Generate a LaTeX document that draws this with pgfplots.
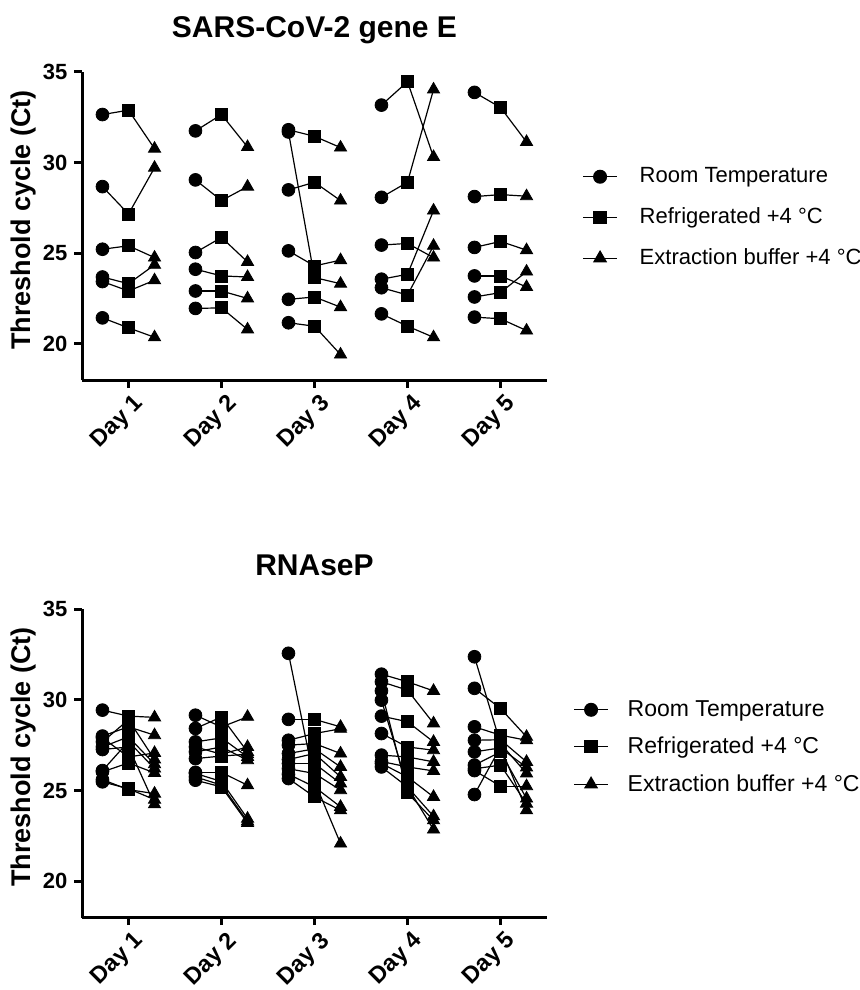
\documentclass[border=0pt]{standalone}
\usepackage{pgfplots}
\pgfplotsset{compat=1.18}
\usepackage{pgfplotstable}
\usepackage{fontspec}
\setmainfont{Liberation Sans}

% one row per sample: day, room temperature, refrigerated, extraction buffer
\pgfplotstableread{
day rt ref ext
1 32.64 32.88 30.76
1 28.67 27.16 29.71
1 25.22 25.41 24.76
1 23.69 23.32 24.36
1 23.44 22.92 23.51
1 21.44 20.89 20.37
2 31.74 32.64 30.85
2 29.04 27.90 28.67
2 25.04 25.87 24.52
2 24.12 23.75 23.69
2 22.92 22.92 22.51
2 21.96 21.99 20.80
3 31.80 31.44 30.82
3 31.68 23.66 23.32
3 28.49 28.91 27.90
3 25.13 24.30 24.62
3 22.46 22.59 22.03
3 21.17 20.98 19.42
4 33.16 34.45 30.30
4 28.08 28.91 34.02
4 25.45 25.54 24.76
4 23.57 23.84 27.35
4 23.10 22.70 25.41
4 21.66 20.98 20.37
5 33.86 33.03 31.13
5 28.12 28.23 28.14
5 25.32 25.65 25.17
5 23.75 23.75 23.14
5 22.59 22.83 23.99
5 21.48 21.39 20.74
}\geneE

\pgfplotstableread{
day rt ref ext
1 29.43 29.10 29.03
1 28.00 28.51 28.05
1 27.90 26.85 27.07
1 27.68 28.90 26.71
1 27.40 27.96 26.45
1 27.26 27.40 24.24
1 26.10 27.70 26.21
1 26.03 26.52 25.97
1 25.60 25.05 24.83
1 25.48 25.10 24.50
2 29.15 28.50 29.06
2 28.42 29.05 27.13
2 27.68 27.90 26.85
2 27.40 27.00 27.40
2 27.13 27.40 26.67
2 26.76 26.90 27.00
2 26.00 26.00 25.29
2 25.94 25.50 23.45
2 25.75 25.30 23.30
2 25.57 25.20 23.21
3 32.56 25.50 22.08
3 28.92 28.92 28.51
3 27.77 28.14 28.40
3 27.50 27.59 27.04
3 27.04 27.30 26.30
3 26.71 27.04 25.75
3 26.49 26.49 25.39
3 26.20 25.94 25.02
3 25.90 25.20 24.10
3 25.66 24.65 23.91
4 31.41 30.99 30.49
4 30.99 30.53 28.70
4 30.49 24.87 23.36
4 29.98 25.20 22.85
4 29.10 28.79 27.68
4 28.14 27.40 27.22
4 26.95 26.85 26.58
4 26.60 26.30 26.08
4 26.49 25.75 24.65
4 26.30 25.20 23.58
5 32.37 27.59 25.94
5 30.63 29.52 27.96
5 28.51 28.05 27.77
5 27.77 27.80 26.58
5 27.13 27.35 26.27
5 26.40 27.13 24.56
5 26.20 26.40 24.28
5 26.10 25.24 25.24
5 24.78 27.40 23.91
}\rnasep

\pgfplotsset{
  ctaxis/.style={
    scale only axis, width=232.5pt, height=154.3pt,
    xmin=0.5, xmax=5.5, ymin=18, ymax=35,
    axis lines*=left,
    axis line style={line width=1.5pt},
    xtick={1,2,3,4,5},
    xticklabels={Day 1,Day 2,Day 3,Day 4,Day 5},
    ytick={20,25,30,35},
    tick align=outside, major tick length=3.8pt,
    tick style={line width=1.5pt, black},
    /pgf/number format/assume math mode=true,
    tick label style={font=\fontsize{11}{13}\selectfont\bfseries},
    x tick label style={rotate=45, anchor=north east, inner sep=1pt,
      xshift=0.9pt, yshift=-2.1pt, font=\fontsize{11.7}{13}\selectfont\bfseries},
    ylabel={Threshold cycle (Ct)},
    ylabel style={at={(axis description cs:0,0.52)}, anchor=base, yshift=25.5pt,
      font=\fontsize{13.5}{15}\selectfont\bfseries},
    title style={at={(axis description cs:0.5,1)}, anchor=base, yshift=10.9pt,
      font=\fontsize{15}{17}\selectfont\bfseries},
    legend cell align=left,
    legend style={draw=none, fill=none, anchor=west, inner xsep=0pt, inner ysep=0pt},
    clip=false,
  },
  pairline/.style={black, line width=0.6pt, mark=none, forget plot},
  rtmark/.style={black, only marks, mark=*, mark size=3.2pt, forget plot},
  refmark/.style={black, only marks, mark=square*, mark size=3pt, forget plot},
  extmark/.style={black, only marks, mark=triangle*, mark size=3.5pt, forget plot},
}

\newcommand{\ctplots}[1]{%
  \addplot[pairline, quiver={u=0.28, v=\thisrow{ref}-\thisrow{rt}}]
    table[x expr=\thisrow{day}-0.28, y=rt] {#1};
  \addplot[pairline, quiver={u=0.28, v=\thisrow{ext}-\thisrow{ref}}]
    table[x=day, y=ref] {#1};
  \addplot[rtmark] table[x expr=\thisrow{day}-0.28, y=rt] {#1};
  \addplot[refmark] table[x=day, y=ref] {#1};
  \addplot[extmark] table[x expr=\thisrow{day}+0.28, y=ext] {#1};
  \addlegendimage{black, line width=0.6pt, mark=*, mark size=3.2pt}
  \addlegendentry{Room Temperature}
  \addlegendimage{black, line width=0.6pt, mark=square*, mark size=3pt}
  \addlegendentry{Refrigerated +4 °C}
  \addlegendimage{black, line width=0.6pt, mark=triangle*, mark size=3.5pt}
  \addlegendentry{Extraction buffer +4 °C}
}

\begin{document}
\begin{tikzpicture}
\useasboundingbox (-41pt,35.85pt) rectangle (388.5pt,-459.15pt);

\begin{axis}[ctaxis, at={(0,0)}, anchor=north west,
  title={SARS-CoV-2 gene E},
  legend style={at={(axis description cs:1,0.527)}, xshift=17.5pt,
    row sep=7pt, column sep=9pt, font=\fontsize{11}{13}\selectfont}]
\ctplots{\geneE}
\end{axis}

\begin{axis}[ctaxis, at={(0,-268.65pt)}, anchor=north west,
  title={RNAseP},
  legend style={at={(axis description cs:1,0.552)}, xshift=13pt,
    row sep=4.9pt, column sep=7.5pt, font=\fontsize{11.5}{13}\selectfont}]
\ctplots{\rnasep}
\end{axis}
\end{tikzpicture}
\end{document}
